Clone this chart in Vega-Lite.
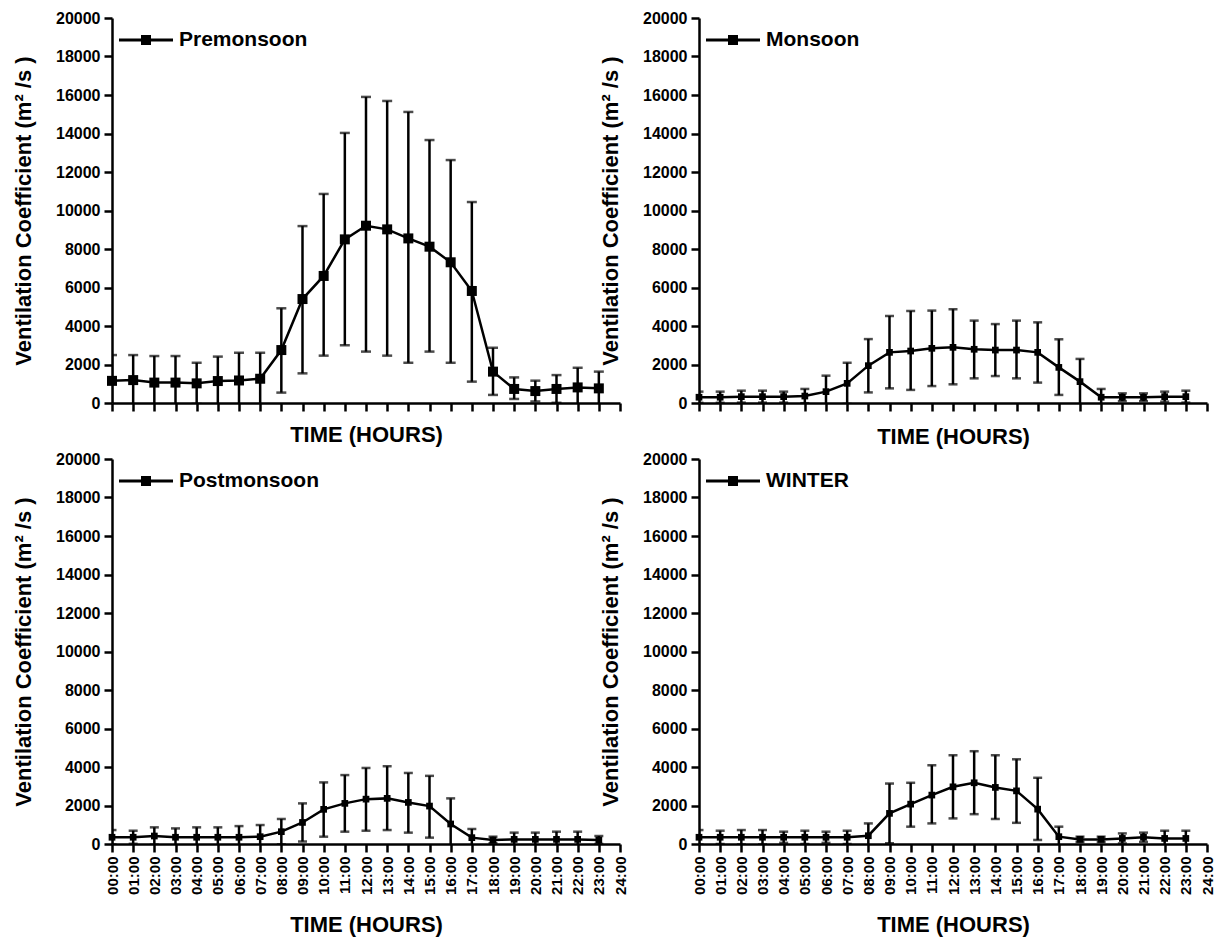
{
  "$schema": "https://vega.github.io/schema/vega-lite/v6.json",
  "background": "white",
  "padding": {"left": 12, "top": 10, "right": 5, "bottom": 5},
  "config": {
    "view": {"stroke": null},
    "font": "Liberation Sans",
    "axis": {
      "domainColor": "black", "domainWidth": 2.5, "tickColor": "black", "tickWidth": 2.5, "tickSize": 8,
      "labelFont": "Liberation Sans", "labelFontWeight": "bold", "labelColor": "black", "labelFontSize": 16, "labelOverlap": false,
      "titleFont": "Liberation Sans", "titleFontWeight": "bold", "titleColor": "black", "grid": false
    },
    "axisY": {"titleFontSize": 22, "titlePadding": 20, "labelPadding": 4},
    "axisX": {"titleFontSize": 22},
    "legend": {
      "title": null, "orient": "none", "legendX": 7, "legendY": -5, "padding": 0,
      "symbolType": "M-1,-0.055H1V0.055H-1Z M-0.185,-0.185H0.185V0.185H-0.185Z",
      "symbolSize": 2916, "symbolFillColor": "black", "symbolStrokeColor": "black", "symbolStrokeWidth": 0, "symbolOpacity": 1,
      "labelFont": "Liberation Sans", "labelFontWeight": "bold", "labelFontSize": 21, "labelColor": "black", "labelOffset": 6
    }
  },
  "datasets": {
    "pre": [
      {"season": "Premonsoon", "hour": 0, "mean": 1150, "lo": -190, "hi": 2490},
      {"season": "Premonsoon", "hour": 1, "mean": 1190, "lo": -110, "hi": 2490},
      {"season": "Premonsoon", "hour": 2, "mean": 1060, "lo": -320, "hi": 2440},
      {"season": "Premonsoon", "hour": 3, "mean": 1060, "lo": -320, "hi": 2440},
      {"season": "Premonsoon", "hour": 4, "mean": 1020, "lo": -50, "hi": 2090},
      {"season": "Premonsoon", "hour": 5, "mean": 1140, "lo": -130, "hi": 2410},
      {"season": "Premonsoon", "hour": 6, "mean": 1170, "lo": -270, "hi": 2610},
      {"season": "Premonsoon", "hour": 7, "mean": 1260, "lo": -90, "hi": 2610},
      {"season": "Premonsoon", "hour": 8, "mean": 2750, "lo": 540, "hi": 4920},
      {"season": "Premonsoon", "hour": 9, "mean": 5400, "lo": 1540, "hi": 9190},
      {"season": "Premonsoon", "hour": 10, "mean": 6600, "lo": 2460, "hi": 10860},
      {"season": "Premonsoon", "hour": 11, "mean": 8500, "lo": 3000, "hi": 14030},
      {"season": "Premonsoon", "hour": 12, "mean": 9210, "lo": 2670, "hi": 15900},
      {"season": "Premonsoon", "hour": 13, "mean": 9020, "lo": 2460, "hi": 15690},
      {"season": "Premonsoon", "hour": 14, "mean": 8550, "lo": 2090, "hi": 15120},
      {"season": "Premonsoon", "hour": 15, "mean": 8120, "lo": 2670, "hi": 13660},
      {"season": "Premonsoon", "hour": 16, "mean": 7310, "lo": 2090, "hi": 12620},
      {"season": "Premonsoon", "hour": 17, "mean": 5820, "lo": 1110, "hi": 10440},
      {"season": "Premonsoon", "hour": 18, "mean": 1630, "lo": 420, "hi": 2870},
      {"season": "Premonsoon", "hour": 19, "mean": 730, "lo": 210, "hi": 1330},
      {"season": "Premonsoon", "hour": 20, "mean": 620, "lo": 80, "hi": 1160},
      {"season": "Premonsoon", "hour": 21, "mean": 730, "lo": 10, "hi": 1450},
      {"season": "Premonsoon", "hour": 22, "mean": 810, "lo": -210, "hi": 1830},
      {"season": "Premonsoon", "hour": 23, "mean": 760, "lo": -110, "hi": 1630}
    ],
    "mon": [
      {"season": "Monsoon", "hour": 0, "mean": 300, "lo": 10, "hi": 590},
      {"season": "Monsoon", "hour": 1, "mean": 300, "lo": 10, "hi": 590},
      {"season": "Monsoon", "hour": 2, "mean": 330, "lo": 20, "hi": 640},
      {"season": "Monsoon", "hour": 3, "mean": 330, "lo": 20, "hi": 640},
      {"season": "Monsoon", "hour": 4, "mean": 330, "lo": 20, "hi": 590},
      {"season": "Monsoon", "hour": 5, "mean": 360, "lo": -10, "hi": 730},
      {"season": "Monsoon", "hour": 6, "mean": 590, "lo": -240, "hi": 1420},
      {"season": "Monsoon", "hour": 7, "mean": 1020, "lo": -50, "hi": 2090},
      {"season": "Monsoon", "hour": 8, "mean": 1940, "lo": 550, "hi": 3320},
      {"season": "Monsoon", "hour": 9, "mean": 2630, "lo": 760, "hi": 4520},
      {"season": "Monsoon", "hour": 10, "mean": 2700, "lo": 680, "hi": 4780},
      {"season": "Monsoon", "hour": 11, "mean": 2840, "lo": 880, "hi": 4800},
      {"season": "Monsoon", "hour": 12, "mean": 2890, "lo": 970, "hi": 4870},
      {"season": "Monsoon", "hour": 13, "mean": 2790, "lo": 1280, "hi": 4280},
      {"season": "Monsoon", "hour": 14, "mean": 2750, "lo": 1400, "hi": 4100},
      {"season": "Monsoon", "hour": 15, "mean": 2750, "lo": 1280, "hi": 4280},
      {"season": "Monsoon", "hour": 16, "mean": 2630, "lo": 1060, "hi": 4190},
      {"season": "Monsoon", "hour": 17, "mean": 1850, "lo": 420, "hi": 3310},
      {"season": "Monsoon", "hour": 18, "mean": 1110, "lo": -70, "hi": 2290},
      {"season": "Monsoon", "hour": 19, "mean": 300, "lo": -130, "hi": 730},
      {"season": "Monsoon", "hour": 20, "mean": 300, "lo": 100, "hi": 500},
      {"season": "Monsoon", "hour": 21, "mean": 300, "lo": 100, "hi": 500},
      {"season": "Monsoon", "hour": 22, "mean": 330, "lo": 70, "hi": 590},
      {"season": "Monsoon", "hour": 23, "mean": 330, "lo": 20, "hi": 640}
    ],
    "post": [
      {"season": "Postmonsoon", "hour": 0, "mean": 350, "lo": -25, "hi": 725},
      {"season": "Postmonsoon", "hour": 1, "mean": 350, "lo": 10, "hi": 690},
      {"season": "Postmonsoon", "hour": 2, "mean": 415, "lo": -35, "hi": 865},
      {"season": "Postmonsoon", "hour": 3, "mean": 350, "lo": -110, "hi": 810},
      {"season": "Postmonsoon", "hour": 4, "mean": 350, "lo": -165, "hi": 865},
      {"season": "Postmonsoon", "hour": 5, "mean": 350, "lo": -165, "hi": 865},
      {"season": "Postmonsoon", "hour": 6, "mean": 350, "lo": -230, "hi": 930},
      {"season": "Postmonsoon", "hour": 7, "mean": 380, "lo": -225, "hi": 985},
      {"season": "Postmonsoon", "hour": 8, "mean": 640, "lo": -20, "hi": 1300},
      {"season": "Postmonsoon", "hour": 9, "mean": 1120, "lo": 130, "hi": 2110},
      {"season": "Postmonsoon", "hour": 10, "mean": 1800, "lo": 380, "hi": 3200},
      {"season": "Postmonsoon", "hour": 11, "mean": 2110, "lo": 640, "hi": 3580},
      {"season": "Postmonsoon", "hour": 12, "mean": 2330, "lo": 690, "hi": 3950},
      {"season": "Postmonsoon", "hour": 13, "mean": 2370, "lo": 725, "hi": 4040},
      {"season": "Postmonsoon", "hour": 14, "mean": 2160, "lo": 590, "hi": 3690},
      {"season": "Postmonsoon", "hour": 15, "mean": 1970, "lo": 330, "hi": 3540},
      {"season": "Postmonsoon", "hour": 16, "mean": 1040, "lo": -290, "hi": 2370},
      {"season": "Postmonsoon", "hour": 17, "mean": 330, "lo": -120, "hi": 780},
      {"season": "Postmonsoon", "hour": 18, "mean": 210, "lo": 40, "hi": 380},
      {"season": "Postmonsoon", "hour": 19, "mean": 240, "lo": -110, "hi": 590},
      {"season": "Postmonsoon", "hour": 20, "mean": 240, "lo": -110, "hi": 590},
      {"season": "Postmonsoon", "hour": 21, "mean": 240, "lo": -160, "hi": 640},
      {"season": "Postmonsoon", "hour": 22, "mean": 240, "lo": -160, "hi": 640},
      {"season": "Postmonsoon", "hour": 23, "mean": 210, "lo": 5, "hi": 415}
    ],
    "win": [
      {"season": "WINTER", "hour": 0, "mean": 350, "lo": -25, "hi": 725},
      {"season": "WINTER", "hour": 1, "mean": 350, "lo": 0, "hi": 690},
      {"season": "WINTER", "hour": 2, "mean": 350, "lo": -25, "hi": 725},
      {"season": "WINTER", "hour": 3, "mean": 350, "lo": -25, "hi": 725},
      {"season": "WINTER", "hour": 4, "mean": 350, "lo": 60, "hi": 640},
      {"season": "WINTER", "hour": 5, "mean": 350, "lo": 0, "hi": 690},
      {"season": "WINTER", "hour": 6, "mean": 350, "lo": 60, "hi": 640},
      {"season": "WINTER", "hour": 7, "mean": 350, "lo": 0, "hi": 690},
      {"season": "WINTER", "hour": 8, "mean": 430, "lo": -210, "hi": 1070},
      {"season": "WINTER", "hour": 9, "mean": 1590, "lo": 40, "hi": 3140},
      {"season": "WINTER", "hour": 10, "mean": 2070, "lo": 900, "hi": 3180},
      {"season": "WINTER", "hour": 11, "mean": 2540, "lo": 1070, "hi": 4090},
      {"season": "WINTER", "hour": 12, "mean": 2970, "lo": 1330, "hi": 4610},
      {"season": "WINTER", "hour": 13, "mean": 3180, "lo": 1550, "hi": 4820},
      {"season": "WINTER", "hour": 14, "mean": 2940, "lo": 1300, "hi": 4610},
      {"season": "WINTER", "hour": 15, "mean": 2760, "lo": 1100, "hi": 4400},
      {"season": "WINTER", "hour": 16, "mean": 1810, "lo": 210, "hi": 3440},
      {"season": "WINTER", "hour": 17, "mean": 380, "lo": -140, "hi": 900},
      {"season": "WINTER", "hour": 18, "mean": 240, "lo": 100, "hi": 380},
      {"season": "WINTER", "hour": 19, "mean": 240, "lo": 100, "hi": 380},
      {"season": "WINTER", "hour": 20, "mean": 290, "lo": 30, "hi": 550},
      {"season": "WINTER", "hour": 21, "mean": 350, "lo": 110, "hi": 590},
      {"season": "WINTER", "hour": 22, "mean": 290, "lo": -110, "hi": 690},
      {"season": "WINTER", "hour": 23, "mean": 290, "lo": -110, "hi": 690}
    ]
  },
  "resolve": {"scale": {"color": "independent"}, "legend": {"color": "independent"}},
  "bounds": "flush",
  "columns": 2,
  "spacing": {"row": 56, "column": 79},
  "concat": [
    {
      "width": 508, "height": 385,
      "data": {"name": "pre"},
      "encoding": {"x": {"field": "hour", "type": "quantitative", "scale": {"domain": [0, 24], "nice": false, "zero": false},
        "axis": {"values": [0,1,2,3,4,5,6,7,8,9,10,11,12,13,14,15,16,17,18,19,20,21,22,23,24], "labels": false, "title": "TIME (HOURS)", "titlePadding": 12}}},
      "layer": [
        {"mark": {"type": "rule", "clip": true, "strokeWidth": 2.5, "color": "black"},
         "encoding": {"y": {"field": "lo", "type": "quantitative", "title": "Ventilation Coefficient (m² /s )", "scale": {"domain": [0, 20000], "nice": false}, "axis": {"values": [0,2000,4000,6000,8000,10000,12000,14000,16000,18000,20000], "format": "d", "labelOverlap": false}}, "y2": {"field": "hi"}}},
        {"mark": {"type": "tick", "orient": "horizontal", "clip": true, "size": 10, "thickness": 2.5, "color": "black"},
         "encoding": {"y": {"field": "hi", "type": "quantitative", "title": "Ventilation Coefficient (m² /s )", "axis": {"values": [0,2000,4000,6000,8000,10000,12000,14000,16000,18000,20000], "format": "d", "labelOverlap": false}}}},
        {"mark": {"type": "tick", "orient": "horizontal", "clip": true, "size": 10, "thickness": 2.5, "color": "black"},
         "encoding": {"y": {"field": "lo", "type": "quantitative", "title": "Ventilation Coefficient (m² /s )", "axis": {"values": [0,2000,4000,6000,8000,10000,12000,14000,16000,18000,20000], "format": "d", "labelOverlap": false}}}},
        {"mark": {"type": "line", "strokeWidth": 2.5, "color": "black"},
         "encoding": {"y": {"field": "mean", "type": "quantitative", "title": "Ventilation Coefficient (m² /s )", "axis": {"values": [0,2000,4000,6000,8000,10000,12000,14000,16000,18000,20000], "format": "d", "labelOverlap": false}}}},
        {"mark": {"type": "point", "shape": "square", "filled": true, "size": 100, "opacity": 1},
         "encoding": {"y": {"field": "mean", "type": "quantitative", "title": "Ventilation Coefficient (m² /s )", "axis": {"values": [0,2000,4000,6000,8000,10000,12000,14000,16000,18000,20000], "format": "d", "labelOverlap": false}},
           "color": {"field": "season", "type": "nominal", "scale": {"range": ["black"]}}}}
      ]
    },
    {
      "width": 508, "height": 385,
      "data": {"name": "mon"},
      "encoding": {"x": {"field": "hour", "type": "quantitative", "scale": {"domain": [0, 24], "nice": false, "zero": false},
        "axis": {"values": [0,1,2,3,4,5,6,7,8,9,10,11,12,13,14,15,16,17,18,19,20,21,22,23,24], "labels": false, "title": "TIME (HOURS)", "titlePadding": 14}}},
      "layer": [
        {"mark": {"type": "rule", "clip": true, "strokeWidth": 2.5, "color": "black"},
         "encoding": {"y": {"field": "lo", "type": "quantitative", "title": "Ventilation Coefficient (m² /s )", "scale": {"domain": [0, 20000], "nice": false}, "axis": {"values": [0,2000,4000,6000,8000,10000,12000,14000,16000,18000,20000], "format": "d", "labelOverlap": false}}, "y2": {"field": "hi"}}},
        {"mark": {"type": "tick", "orient": "horizontal", "clip": true, "size": 9, "thickness": 2.5, "color": "black"},
         "encoding": {"y": {"field": "hi", "type": "quantitative", "title": "Ventilation Coefficient (m² /s )", "axis": {"values": [0,2000,4000,6000,8000,10000,12000,14000,16000,18000,20000], "format": "d", "labelOverlap": false}}}},
        {"mark": {"type": "tick", "orient": "horizontal", "clip": true, "size": 9, "thickness": 2.5, "color": "black"},
         "encoding": {"y": {"field": "lo", "type": "quantitative", "title": "Ventilation Coefficient (m² /s )", "axis": {"values": [0,2000,4000,6000,8000,10000,12000,14000,16000,18000,20000], "format": "d", "labelOverlap": false}}}},
        {"mark": {"type": "line", "strokeWidth": 2.5, "color": "black"},
         "encoding": {"y": {"field": "mean", "type": "quantitative", "title": "Ventilation Coefficient (m² /s )", "axis": {"values": [0,2000,4000,6000,8000,10000,12000,14000,16000,18000,20000], "format": "d", "labelOverlap": false}}}},
        {"mark": {"type": "point", "shape": "square", "filled": true, "size": 45, "opacity": 1},
         "encoding": {"y": {"field": "mean", "type": "quantitative", "title": "Ventilation Coefficient (m² /s )", "axis": {"values": [0,2000,4000,6000,8000,10000,12000,14000,16000,18000,20000], "format": "d", "labelOverlap": false}},
           "color": {"field": "season", "type": "nominal", "scale": {"range": ["black"]}}}}
      ]
    },
    {
      "width": 508, "height": 385,
      "data": {"name": "post"},
      "encoding": {"x": {"field": "hour", "type": "quantitative", "scale": {"domain": [0, 24], "nice": false, "zero": false},
        "axis": {"values": [0,1,2,3,4,5,6,7,8,9,10,11,12,13,14,15,16,17,18,19,20,21,22,23,24], "labelAngle": 270, "labelFontSize": 15, "labelPadding": 4,
          "labelExpr": "(datum.value < 10 ? '0' : '') + datum.value + ':00'", "title": "TIME (HOURS)", "titlePadding": 20}}},
      "layer": [
        {"mark": {"type": "rule", "clip": true, "strokeWidth": 2.5, "color": "black"},
         "encoding": {"y": {"field": "lo", "type": "quantitative", "title": "Ventilation Coefficient (m² /s )", "scale": {"domain": [0, 20000], "nice": false}, "axis": {"values": [0,2000,4000,6000,8000,10000,12000,14000,16000,18000,20000], "format": "d", "labelOverlap": false}}, "y2": {"field": "hi"}}},
        {"mark": {"type": "tick", "orient": "horizontal", "clip": true, "size": 9, "thickness": 2.5, "color": "black"},
         "encoding": {"y": {"field": "hi", "type": "quantitative", "title": "Ventilation Coefficient (m² /s )", "axis": {"values": [0,2000,4000,6000,8000,10000,12000,14000,16000,18000,20000], "format": "d", "labelOverlap": false}}}},
        {"mark": {"type": "tick", "orient": "horizontal", "clip": true, "size": 9, "thickness": 2.5, "color": "black"},
         "encoding": {"y": {"field": "lo", "type": "quantitative", "title": "Ventilation Coefficient (m² /s )", "axis": {"values": [0,2000,4000,6000,8000,10000,12000,14000,16000,18000,20000], "format": "d", "labelOverlap": false}}}},
        {"mark": {"type": "line", "strokeWidth": 2.5, "color": "black"},
         "encoding": {"y": {"field": "mean", "type": "quantitative", "title": "Ventilation Coefficient (m² /s )", "axis": {"values": [0,2000,4000,6000,8000,10000,12000,14000,16000,18000,20000], "format": "d", "labelOverlap": false}}}},
        {"mark": {"type": "point", "shape": "square", "filled": true, "size": 45, "opacity": 1},
         "encoding": {"y": {"field": "mean", "type": "quantitative", "title": "Ventilation Coefficient (m² /s )", "axis": {"values": [0,2000,4000,6000,8000,10000,12000,14000,16000,18000,20000], "format": "d", "labelOverlap": false}},
           "color": {"field": "season", "type": "nominal", "scale": {"range": ["black"]}}}}
      ]
    },
    {
      "width": 508, "height": 385,
      "data": {"name": "win"},
      "encoding": {"x": {"field": "hour", "type": "quantitative", "scale": {"domain": [0, 24], "nice": false, "zero": false},
        "axis": {"values": [0,1,2,3,4,5,6,7,8,9,10,11,12,13,14,15,16,17,18,19,20,21,22,23,24], "labelAngle": 270, "labelFontSize": 15, "labelPadding": 4,
          "labelExpr": "(datum.value < 10 ? '0' : '') + datum.value + ':00'", "title": "TIME (HOURS)", "titlePadding": 20}}},
      "layer": [
        {"mark": {"type": "rule", "clip": true, "strokeWidth": 2.5, "color": "black"},
         "encoding": {"y": {"field": "lo", "type": "quantitative", "title": "Ventilation Coefficient (m² /s )", "scale": {"domain": [0, 20000], "nice": false}, "axis": {"values": [0,2000,4000,6000,8000,10000,12000,14000,16000,18000,20000], "format": "d", "labelOverlap": false}}, "y2": {"field": "hi"}}},
        {"mark": {"type": "tick", "orient": "horizontal", "clip": true, "size": 9, "thickness": 2.5, "color": "black"},
         "encoding": {"y": {"field": "hi", "type": "quantitative", "title": "Ventilation Coefficient (m² /s )", "axis": {"values": [0,2000,4000,6000,8000,10000,12000,14000,16000,18000,20000], "format": "d", "labelOverlap": false}}}},
        {"mark": {"type": "tick", "orient": "horizontal", "clip": true, "size": 9, "thickness": 2.5, "color": "black"},
         "encoding": {"y": {"field": "lo", "type": "quantitative", "title": "Ventilation Coefficient (m² /s )", "axis": {"values": [0,2000,4000,6000,8000,10000,12000,14000,16000,18000,20000], "format": "d", "labelOverlap": false}}}},
        {"mark": {"type": "line", "strokeWidth": 2.5, "color": "black"},
         "encoding": {"y": {"field": "mean", "type": "quantitative", "title": "Ventilation Coefficient (m² /s )", "axis": {"values": [0,2000,4000,6000,8000,10000,12000,14000,16000,18000,20000], "format": "d", "labelOverlap": false}}}},
        {"mark": {"type": "point", "shape": "square", "filled": true, "size": 45, "opacity": 1},
         "encoding": {"y": {"field": "mean", "type": "quantitative", "title": "Ventilation Coefficient (m² /s )", "axis": {"values": [0,2000,4000,6000,8000,10000,12000,14000,16000,18000,20000], "format": "d", "labelOverlap": false}},
           "color": {"field": "season", "type": "nominal", "scale": {"range": ["black"]}}}}
      ]
    }
  ]
}
